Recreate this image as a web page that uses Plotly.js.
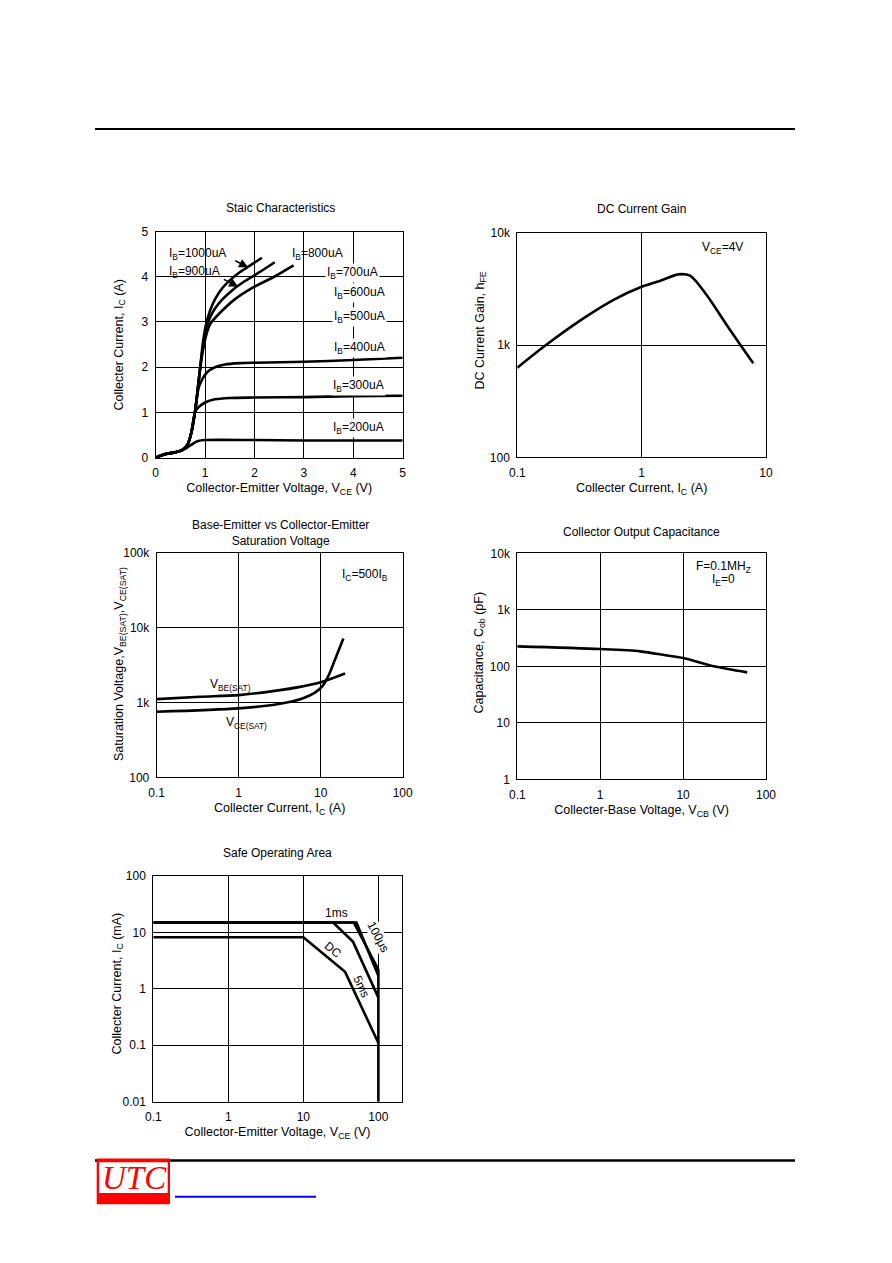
<!DOCTYPE html>
<html><head><meta charset="utf-8">
<script src="https://cdn.plot.ly/plotly-3.0.1.min.js"></script>
<style>html,body{margin:0;padding:0;background:#fff}#chart{width:892px;height:1263px}</style>
</head><body><div id="chart"></div><script>
// ---------- Data ----------
// Static characteristics (VCE in V, IC in A)
const vce200 = [0, 0.2, 0.4, 0.55, 0.62, 0.7, 0.78, 0.86, 1.0, 2.0, 3.0, 4.0, 5.0];
const ic200  = [0, 0.08, 0.12, 0.17, 0.21, 0.27, 0.33, 0.37, 0.39, 0.39, 0.38, 0.38, 0.38];
const vce300 = [0, 0.2, 0.4, 0.55, 0.65, 0.72, 0.8, 0.87, 1.0, 1.2, 1.5, 2.0, 3.0, 4.0, 5.0];
const ic300  = [0, 0.08, 0.12, 0.18, 0.3, 0.55, 1.02, 1.12, 1.22, 1.29, 1.32, 1.33, 1.34, 1.36, 1.37];
const vce400 = [0, 0.2, 0.4, 0.55, 0.65, 0.72, 0.8, 0.87, 0.95, 1.05, 1.2, 1.4, 1.7, 2.0, 3.0, 4.0, 5.0];
const ic400  = [0, 0.08, 0.12, 0.18, 0.3, 0.55, 1.05, 1.55, 1.75, 1.9, 2.0, 2.06, 2.09, 2.1, 2.12, 2.16, 2.21];
const vceA = [0, 0.2, 0.4, 0.55, 0.65, 0.72, 0.8, 0.87, 0.93, 0.97, 1.02, 1.1, 1.2, 1.35, 1.5, 1.7, 1.9, 2.15];
const icA  = [0, 0.08, 0.12, 0.18, 0.3, 0.55, 1.05, 1.7, 2.3, 2.65, 2.95, 3.25, 3.5, 3.75, 3.92, 4.1, 4.24, 4.42];
const vceB = [0, 0.2, 0.4, 0.55, 0.65, 0.72, 0.8, 0.87, 0.93, 0.97, 1.02, 1.1, 1.2, 1.35, 1.57, 1.8, 2.1, 2.41];
const icB  = [0, 0.08, 0.12, 0.18, 0.3, 0.55, 1.05, 1.7, 2.25, 2.55, 2.85, 3.1, 3.3, 3.5, 3.72, 3.9, 4.1, 4.32];
const vceC = [0, 0.2, 0.4, 0.55, 0.65, 0.72, 0.8, 0.87, 0.93, 0.97, 1.02, 1.1, 1.3, 1.6, 2.0, 2.4, 2.79];
const icC  = [0, 0.08, 0.12, 0.18, 0.3, 0.55, 1.05, 1.7, 2.2, 2.45, 2.7, 2.95, 3.2, 3.5, 3.78, 4.0, 4.25];
const linTicks = [0, 1, 2, 3, 4, 5];

// DC current gain
const icGain = [0.1, 0.17, 0.34, 0.59, 1.0, 1.4, 1.97, 2.45, 3.33, 4.83, 6.37, 7.9];
const hfe    = [628, 1000, 1727, 2514, 3300, 3716, 4256, 4140, 2787, 1507, 966, 687];

// Saturation voltage
const icVbe = [0.1, 0.34, 1, 3.19, 5.6, 10, 19.8];
const vbe   = [1108, 1190, 1253, 1460, 1615, 1860, 2440];
const icVce = [0.1, 1, 3.19, 6.0, 8.5, 10.5, 12.5, 14.3, 18.9];
const vceSat = [751, 832, 960, 1130, 1350, 1650, 2300, 3300, 7130];

// Output capacitance
const vcb = [0.1, 1, 3.05, 6.4, 10, 23.5, 59.4];
const cob = [225, 202, 184, 155, 140, 100, 78];

// Safe operating area
const soaDcV = [0.1, 10, 36, 100];      const soaDcI = [8.2, 8.2, 2.0, 0.11];
const soa5V  = [0.1, 25, 46, 100];      const soa5I  = [15, 15, 6.8, 0.7];
const soa1V  = [0.1, 47, 100];          const soa1I  = [15, 15, 2.2];
const soa100V = [0.1, 51, 100];         const soa100I = [15, 15, 1.7];
const limV = [100, 100];                const limI = [2.2, 0.01];

// Tick labels
const decTicks3 = [100, 1000, 10000];          const decText3 = ['100', '1k', '10k'];
const decTicks4 = [100, 1000, 10000, 100000];  const decText4 = ['100', '1k', '10k', '100k'];
const capTicks = [1, 10, 100, 1000, 10000];    const capText = ['1', '10', '100', '1k', '10k'];
const soaTicksY = [0.01, 0.1, 1, 10, 100];     const soaTextY = ['0.01', '0.1', '1', '10', '100'];
const xTicks2 = [0.1, 1, 10];                  const xText2 = ['0.1', '1', '10'];
const xTicks3 = [0.1, 1, 10, 100];             const xText3 = ['0.1', '1', '10', '100'];

// ---------- Layout helpers ----------
const W = 892, H = 1263;
const px = x => x / W, py = y => 1 - y / H;
const F = 'Liberation Sans, Arial, sans-serif';
const L = Math.log10;

function ax(domain, extra) {
  return Object.assign({
    domain: domain, showline: true, mirror: true, linecolor: '#000', linewidth: 1,
    showgrid: true, gridcolor: '#000', gridwidth: 1, zeroline: false, ticks: '',
    ticklabelstandoff: 4, tickfont: {family: F, size: 12, color: '#000'}, fixedrange: true
  }, extra);
}
function ttl(text, standoff) { return {text: text, font: {family: F, size: 12.5, color: '#000'}, standoff: standoff}; }

function line(x, y, xa, ya, shape) {
  return {x: x, y: y, xaxis: xa, yaxis: ya, mode: 'lines', hoverinfo: 'skip', showlegend: false,
    line: {color: '#000', width: 2.6, shape: shape || 'linear', smoothing: 0.8}};
}

const traces = [
  line(vce200, ic200, 'x', 'y', 'spline'),
  line(vce300, ic300, 'x', 'y', 'spline'),
  line(vce400, ic400, 'x', 'y', 'spline'),
  line(vceA, icA, 'x', 'y', 'spline'),
  line(vceB, icB, 'x', 'y', 'spline'),
  line(vceC, icC, 'x', 'y', 'spline'),
  line(icGain, hfe, 'x2', 'y2', 'spline'),
  line(icVbe, vbe, 'x3', 'y3', 'spline'),
  line(icVce, vceSat, 'x3', 'y3', 'spline'),
  line(vcb, cob, 'x4', 'y4', 'spline'),
  line(soaDcV, soaDcI, 'x5', 'y5'),
  line(soa5V, soa5I, 'x5', 'y5'),
  line(soa1V, soa1I, 'x5', 'y5'),
  line(soa100V, soa100I, 'x5', 'y5'),
  line(limV, limI, 'x5', 'y5')
];

function lab(text, x, y, xref, yref, extra) {
  return Object.assign({text: text, x: x, y: y, xref: xref, yref: yref, showarrow: false,
    font: {family: F, size: 12, color: '#000'}}, extra || {});
}
function ptitle(text, cx, cy) {
  return {text: text, x: px(cx), y: py(cy), xref: 'paper', yref: 'paper', showarrow: false,
    xanchor: 'center', yanchor: 'middle', font: {family: F, size: 12, color: '#000'}};
}
function ytitle(text, cx, cy) {
  return {text: text, x: px(cx), y: py(cy), xref: 'paper', yref: 'paper', showarrow: false, textangle: -90,
    xanchor: 'center', yanchor: 'middle', font: {family: F, size: 12.5, color: '#000'}};
}
const wb = {bgcolor: '#fff', xanchor: 'left', borderpad: 1};

const annotations = [
  ptitle('Staic Characteristics', 280, 208),
  ptitle('DC Current Gain', 641, 209),
  ptitle('Base-Emitter vs Collector-Emitter<br>Saturation Voltage', 280, 533),
  ptitle('Collector Output Capacitance', 641, 532),
  ptitle('Safe Operating Area', 277, 853),
  ytitle('Collecter Current, I<sub>C</sub> (A)', 119.5, 345),
  ytitle('DC Current Gain, h<sub>FE</sub>', 480.5, 331),
  ytitle('Saturation Voltage,V<sub>BE(SAT)</sub>,V<sub>CE(SAT)</sub>', 120, 664),
  ytitle('Capacitance, C<sub>ob</sub> (pF)', 479.5, 653),
  ytitle('Collecter Current, I<sub>C</sub> (mA)', 117.5, 983),
  // static characteristics labels
  lab('I<sub>B</sub>=1000uA', 0.22, 4.5, 'x', 'y', {xanchor: 'left'}),
  lab('I<sub>B</sub>=900uA', 0.22, 4.1, 'x', 'y', {xanchor: 'left'}),
  lab('I<sub>B</sub>=800uA', 2.72, 4.5, 'x', 'y', {xanchor: 'left'}),
  lab('I<sub>B</sub>=700uA', 3.42, 4.08, 'x', 'y', wb),
  lab('I<sub>B</sub>=600uA', 3.57, 3.63, 'x', 'y', wb),
  lab('I<sub>B</sub>=500uA', 3.57, 3.11, 'x', 'y', wb),
  lab('I<sub>B</sub>=400uA', 3.57, 2.43, 'x', 'y', wb),
  lab('I<sub>B</sub>=300uA', 3.54, 1.59, 'x', 'y', wb),
  lab('I<sub>B</sub>=200uA', 3.54, 0.65, 'x', 'y', wb),
  {x: 1.87, y: 4.21, ax: 1.58, ay: 4.37, xref: 'x', yref: 'y', axref: 'x', ayref: 'y', text: '',
    showarrow: true, arrowhead: 2, arrowsize: 1.2, arrowwidth: 1.5, arrowcolor: '#000'},
  {x: 1.67, y: 3.78, ax: 1.35, ay: 3.96, xref: 'x', yref: 'y', axref: 'x', ayref: 'y', text: '',
    showarrow: true, arrowhead: 2, arrowsize: 1.2, arrowwidth: 1.5, arrowcolor: '#000'},
  // DC gain
  lab('V<sub>CE</sub>=4V', L(4.46), L(7250), 'x2', 'y2'),
  // saturation
  lab('V<sub>BE(SAT)</sub>', L(0.8), L(1702), 'x3', 'y3'),
  lab('V<sub>CE(SAT)</sub>', L(1.25), L(535), 'x3', 'y3'),
  lab('I<sub>C</sub>=500I<sub>B</sub>', L(34.7), L(49900), 'x3', 'y3'),
  // capacitance
  lab('F=0.1MH<sub>Z</sub>', L(31), L(5820), 'x4', 'y4'),
  lab('I<sub>E</sub>=0', L(31), L(3390), 'x4', 'y4'),
  // SOA
  lab('1ms', L(27.9), L(22.4), 'x5', 'y5'),
  lab('DC', L(25), L(4.9), 'x5', 'y5', {textangle: 40}),
  lab('5ms', L(60), L(1.09), 'x5', 'y5', {textangle: 65}),
  lab('100μs', L(100), L(8.4), 'x5', 'y5', {textangle: 62, bgcolor: '#fff', borderpad: 0}),
  // logo
  {text: '<i>UTC</i>', x: px(134), y: py(1178), xref: 'paper', yref: 'paper', showarrow: false,
    xanchor: 'center', yanchor: 'middle', font: {family: 'Liberation Serif, Times New Roman, serif', size: 33, color: '#ff0000'}}
];

const shapes = [
  {type: 'line', xref: 'paper', yref: 'paper', x0: px(95), x1: px(795), y0: py(129), y1: py(129), line: {color: '#000', width: 2}},
  {type: 'line', xref: 'paper', yref: 'paper', x0: px(95), x1: px(795), y0: py(1160.5), y1: py(1160.5), line: {color: '#000', width: 2.5}},
  {type: 'rect', xref: 'paper', yref: 'paper', x0: px(96.7), x1: px(170), y0: py(1204.3), y1: py(1158.5), fillcolor: '#ff0000', line: {width: 0}},
  {type: 'rect', xref: 'paper', yref: 'paper', x0: px(99), x1: px(167.7), y0: py(1193), y1: py(1162.3), fillcolor: '#fff', line: {width: 0}},
  {type: 'line', xref: 'paper', yref: 'paper', x0: px(175), x1: px(316), y0: py(1196.7), y1: py(1196.7), line: {color: '#0000ff', width: 2}}
];

const layout = {
  width: W, height: H, margin: {l: 0, r: 0, t: 0, b: 0},
  paper_bgcolor: '#fff', plot_bgcolor: '#fff', showlegend: false, font: {family: F, color: '#000'},
  xaxis: ax([px(155.7), px(402.7)], {anchor: 'y', range: [0, 5], tickvals: linTicks,
    title: ttl('Collector-Emitter Voltage, V<sub>CE</sub> (V)', 4)}),
  yaxis: ax([py(457.7), py(231.5)], {anchor: 'x', range: [0, 5], tickvals: linTicks}),
  xaxis2: ax([px(517.3), px(766)], {anchor: 'y2', type: 'log', range: [-1, 1], tickvals: xTicks2, ticktext: xText2,
    title: ttl('Collecter Current, I<sub>C</sub> (A)', 4)}),
  yaxis2: ax([py(457.3), py(232.7)], {anchor: 'x2', type: 'log', range: [2, 4], tickvals: decTicks3, ticktext: decText3}),
  xaxis3: ax([px(156.7), px(402.7)], {anchor: 'y3', type: 'log', range: [-1, 2], tickvals: xTicks3, ticktext: xText3,
    title: ttl('Collecter Current, I<sub>C</sub> (A)', 4)}),
  yaxis3: ax([py(777.3), py(552.7)], {anchor: 'x3', type: 'log', range: [2, 5], tickvals: decTicks4, ticktext: decText4}),
  xaxis4: ax([px(517.3), px(766)], {anchor: 'y4', type: 'log', range: [-1, 2], tickvals: xTicks3, ticktext: xText3,
    title: ttl('Collecter-Base Voltage, V<sub>CB</sub> (V)', 4)}),
  yaxis4: ax([py(779.3), py(553.3)], {anchor: 'x4', type: 'log', range: [0, 4], tickvals: capTicks, ticktext: capText}),
  xaxis5: ax([px(153.3), px(401.7)], {anchor: 'y5', type: 'log', range: [-1, 2.311], tickvals: xTicks3, ticktext: xText3,
    title: ttl('Collector-Emitter Voltage, V<sub>CE</sub> (V)', 4)}),
  yaxis5: ax([py(1101.7), py(876)], {anchor: 'x5', type: 'log', range: [-2, 2], tickvals: soaTicksY, ticktext: soaTextY}),
  annotations: annotations, shapes: shapes
};

Plotly.newPlot('chart', traces, layout, {staticPlot: true, displayModeBar: false});
</script></body></html>
